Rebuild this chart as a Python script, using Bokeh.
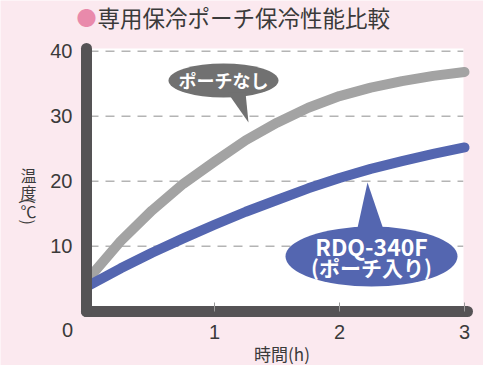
import math
from bokeh.plotting import figure
from bokeh.models import Range1d, FixedTicker, Label, BoxAnnotation
from bokeh.embed import file_html
from bokeh.resources import INLINE

# ---- data ----
hours = [0, 0.25, 0.5, 0.75, 1.0, 1.25, 1.5, 1.75, 2.0, 2.25, 2.5, 2.75, 3.0]
no_pouch = [5.2, 10.8, 15.5, 19.6, 23.0, 26.3, 29.0, 31.3, 33.1, 34.4, 35.4, 36.2, 36.8]
with_pouch = [4.0, 6.6, 9.0, 11.2, 13.3, 15.3, 17.1, 18.9, 20.5, 21.9, 23.1, 24.2, 25.2]
x_ticks = [1, 2, 3]
y_ticks = [10, 20, 30, 40]
title_text = "専用保冷ポーチ保冷性能比較"
x_title = "時間(h)"
no_pouch_name = "ポーチなし"
with_pouch_name = ["RDQ-340F", "(ポーチ入り)"]

PINK = "#fbe9ef"
AXIS = "#555355"
GRAY = "#a3a3a3"
BUBBLE_GRAY = "#717171"
BLUE = "#5466b0"
TEXT = "#3a3a3a"
CJK = "Noto Sans CJK JP"
LAT = "Liberation Sans"

# plot-area extents (data units)
X0, X1 = -0.024, 3.024
Y0, Y1 = -0.046, 40.42

p = figure(width=483, height=365, output_backend="svg", toolbar_location=None,
           x_range=Range1d(-0.712, 3.152), y_range=Range1d(-8.354, 47.8),
           min_border=0, background_fill_color=PINK, border_fill_color=PINK,
           outline_line_color=None)

# white plotting area
p.add_layout(BoxAnnotation(left=X0, right=2.992, bottom=Y0, top=Y1, fill_color="white",
                           fill_alpha=1.0, line_color=None, level="image"))

# dashed horizontal gridlines
p.segment(x0=[0] * len(y_ticks), y0=y_ticks, x1=[2.99] * len(y_ticks), y1=y_ticks,
          line_color="#b4b4b4", line_width=1.5, line_dash="9 7")

# axes
for ax in (p.xaxis, p.yaxis):
    ax.axis_line_width = 11
    ax.axis_line_color = AXIS
    ax.axis_line_cap = "round"
    ax.major_label_text_font = LAT
    ax.major_label_text_font_size = "20px"
    ax.major_label_text_color = TEXT
    ax.major_label_standoff = 14
    ax.minor_tick_line_color = None
    ax.major_tick_out = 0
p.xaxis.ticker = FixedTicker(ticks=x_ticks)
p.yaxis.ticker = FixedTicker(ticks=y_ticks)
p.xaxis.fixed_location = Y0
p.yaxis.fixed_location = X0
p.xaxis.bounds = (X0, X1)
p.yaxis.bounds = (Y0, Y1)
p.xaxis.major_tick_in = 9
p.xaxis.major_tick_line_color = "#9a9a9a"
p.yaxis.major_tick_in = 0
p.yaxis.major_tick_line_color = None
p.xgrid.visible = False
p.ygrid.visible = False

# series
p.line(hours, no_pouch, line_color=GRAY, line_width=10, line_cap="round", line_join="round")
p.line(hours, with_pouch, line_color=BLUE, line_width=10, line_cap="round", line_join="round")

# callout bubbles
p.ellipse(x=[1.072], y=[35.5], width=[110], height=[34], width_units="screen",
          height_units="screen", fill_color=BUBBLE_GRAY, line_color=None)
p.patch([1.104, 1.248, 1.272], [33.65, 33.65, 29.03], fill_color=BUBBLE_GRAY, line_color=None)
p.add_layout(Label(x=1.072, y=35.5, text=no_pouch_name, text_align="center",
                   text_baseline="middle", text_font=CJK, text_font_size="18px",
                   text_font_style="bold", text_color="white"))

p.ellipse(x=[2.256], y=[8.4], width=[172], height=[60], width_units="screen",
          height_units="screen", fill_color=BLUE, line_color=None)
p.patch([2.136, 2.36, 2.224], [12.1, 12.1, 19.8], fill_color=BLUE, line_color=None)
p.add_layout(Label(x=2.256, y=8.4, y_offset=11, text=with_pouch_name[0], text_align="center",
                   text_baseline="middle", text_font=CJK, text_font_size="23px",
                   text_font_style="bold", text_color="white"))
p.add_layout(Label(x=2.256, y=8.4, y_offset=-10, text=with_pouch_name[1], text_align="center",
                   text_baseline="middle", text_font=CJK, text_font_size="21px",
                   text_font_style="bold", text_color="white"))

# origin label and axis titles
p.add_layout(Label(x=0, y=0, x_offset=-22, y_offset=-19, text="0", text_align="center",
                   text_baseline="middle", text_font=LAT, text_font_size="20px", text_color=TEXT))
p.add_layout(Label(x=1.5, y=0, x_offset=5, y_offset=-42, text=x_title, text_align="center",
                   text_baseline="middle", text_font=CJK, text_font_size="17px", text_color=TEXT))

ylab = [("温", 0, 6), ("度", 0, -10.5), ("(", -math.pi / 2, -20), ("℃", 0, -30),
        (")", -math.pi / 2, -41)]
for ch, ang, dy in ylab:
    p.add_layout(Label(x=0, y=20, x_offset=-61, y_offset=dy, text=ch, angle=ang,
                       text_align="center", text_baseline="middle", text_font=CJK,
                       text_font_size="16px", text_color=TEXT))

# title
p.add_layout(Label(x=0, y=40, x_offset=-3, y_offset=34, text="●", text_align="center",
                   text_baseline="middle", text_font=CJK, text_font_size="20px",
                   text_color="#e98aab"))
p.add_layout(Label(x=0, y=40, x_offset=8, y_offset=34, text=title_text, text_align="left",
                   text_baseline="middle", text_font=CJK, text_font_size="22.5px",
                   text_color=TEXT))

open("out.html", "w").write(file_html(p, INLINE))
